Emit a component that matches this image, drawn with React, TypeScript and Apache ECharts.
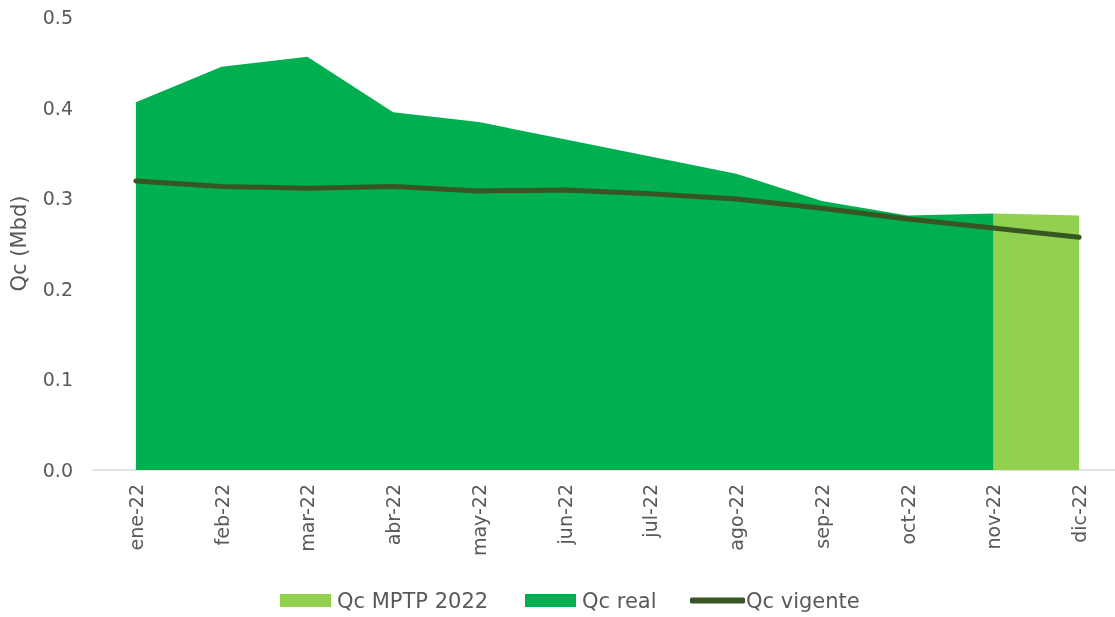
import React, { useEffect, useRef } from "react";
import * as echarts from "echarts";

const categories = ["ene-22", "feb-22", "mar-22", "abr-22", "may-22", "jun-22", "jul-22", "ago-22", "sep-22", "oct-22", "nov-22", "dic-22"];
const qcReal = [0.406, 0.445, 0.456, 0.395, 0.384, 0.365, 0.346, 0.327, 0.297, 0.281, 0.283, null];
const qcMptp = [null, null, null, null, null, null, null, null, null, null, 0.283, 0.281];
const qcVigente = [0.319, 0.313, 0.311, 0.313, 0.308, 0.309, 0.305, 0.299, 0.289, 0.277, 0.267, 0.257];
const yTicks = { min: 0, max: 0.5, interval: 0.1 };

const FONT = "DejaVu Sans";
const GREY = "#595959";

const legendText = { fontFamily: FONT, fontSize: 21, color: GREY, padding: [0, 0, 0, 1] };

export default function App() {
  const ref = useRef<HTMLDivElement>(null);
  useEffect(() => {
    const chart = echarts.init(ref.current!, null, { renderer: "svg" });
    chart.setOption({
      animation: false,
      grid: { left: 92, width: 1030, top: 17, height: 453, containLabel: false },
      legend: [
        { top: 585, left: 275, itemWidth: 51, itemHeight: 13, textStyle: legendText, data: [{ name: "Qc MPTP 2022", icon: "rect" }] },
        { top: 585, left: 520, itemWidth: 51, itemHeight: 13, textStyle: legendText, data: [{ name: "Qc real", icon: "rect" }] },
        { top: 585, left: 685, itemWidth: 55, itemHeight: 6, itemGap: 0, textStyle: { ...legendText, padding: [0, 0, 0, -4] }, data: [{ name: "Qc vigente", icon: "roundRect" }] },
      ],
      xAxis: {
        type: "category",
        data: categories,
        boundaryGap: true,
        axisLine: { lineStyle: { color: "#d9d9d9", width: 1.5 } },
        axisTick: { show: false },
        axisLabel: { rotate: 90, margin: 14, fontFamily: FONT, fontSize: 19, color: GREY },
      },
      yAxis: {
        type: "value",
        min: yTicks.min,
        max: yTicks.max,
        interval: yTicks.interval,
        name: "Qc (Mbd)",
        nameLocation: "middle",
        nameGap: 64,
        nameRotate: 90,
        nameTextStyle: { fontFamily: FONT, fontSize: 21, color: GREY },
        axisLine: { show: false },
        axisTick: { show: false },
        splitLine: { show: false },
        axisLabel: { margin: 20, fontFamily: FONT, fontSize: 19, color: GREY, formatter: (v: number) => v.toFixed(1) },
      },
      series: [
        {
          name: "Qc MPTP 2022",
          type: "line",
          data: qcMptp,
          symbol: "none",
          itemStyle: { color: "#92D050" },
          lineStyle: { width: 0, color: "#92D050" },
          areaStyle: { color: "#92D050", opacity: 1 },
          z: 1,
        },
        {
          name: "Qc real",
          type: "line",
          data: qcReal,
          symbol: "none",
          itemStyle: { color: "#00B050" },
          lineStyle: { width: 0, color: "#00B050" },
          areaStyle: { color: "#00B050", opacity: 1 },
          z: 2,
        },
        {
          name: "Qc vigente",
          type: "line",
          data: qcVigente,
          symbol: "none",
          itemStyle: { color: "#375623" },
          lineStyle: { width: 5, color: "#375623", cap: "round" },
          z: 3,
        },
      ],
    });
    return () => chart.dispose();
  }, []);
  return (
    <div style={{ position: "fixed", left: 0, top: 0, width: 1115, height: 617, overflow: "hidden" }}>
      <div ref={ref} style={{ width: 1125, height: 617 }} />
    </div>
  );
}
